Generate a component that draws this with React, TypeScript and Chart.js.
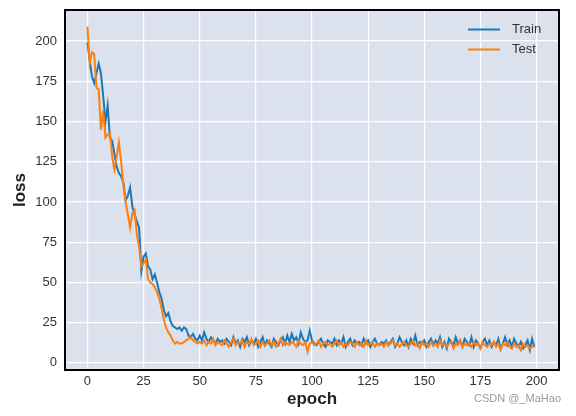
import { useEffect, useRef } from "react";
import { Chart, registerables } from "chart.js";

Chart.register(...registerables);

const trainLoss = [
  199, 188, 178, 174, 180, 186, 180, 166, 150, 160,
  140, 138, 130, 122, 118, 116, 112, 101, 104, 109,
  97, 92, 88, 84, 57, 66, 68, 60, 58, 52,
  55, 50, 44, 40, 33, 29, 31, 26, 23, 22,
  21, 22, 20, 22, 21, 17, 16, 18, 15, 14,
  17, 14, 19, 15, 13, 16, 14, 12, 15, 13,
  14, 12, 15, 13, 11, 16, 12, 14, 10, 15,
  13, 16, 11, 14, 12, 15, 10, 13, 16, 11,
  14, 12, 10, 15, 13, 11, 14, 16, 12, 17,
  13, 18, 14, 16, 12, 19, 15, 13, 14, 20,
  14, 12, 11, 13, 15, 12, 10, 14, 13, 12,
  15, 11, 14, 12, 16, 10, 13, 15, 11, 14,
  12, 13, 11, 15, 12, 14, 10, 13, 15, 12,
  11, 13, 12, 14, 11, 13, 15, 10, 12, 16,
  13, 11, 14, 10, 15, 12, 17, 11, 13, 12,
  14, 10, 13, 15, 11, 14, 12, 16, 10, 13,
  9, 15, 13, 11, 16, 12, 14, 10, 15, 13,
  11, 16, 10, 14, 12, 9, 13, 15, 11, 14,
  10, 13, 11, 15, 9, 12, 16, 11, 14, 10,
  15, 12, 10, 13, 9, 11, 14, 8, 15, 10,
];

const testLoss = [
  209, 186, 193, 192, 171, 170, 145, 157, 140, 142,
  143, 128, 120, 128, 137, 125, 110, 100, 92, 84,
  93, 95, 80, 72, 60, 62, 64, 52, 50, 49,
  47, 44, 40, 34, 27, 22, 19, 17, 14, 12,
  13, 12, 12, 13, 14, 15, 16, 14, 13, 12,
  13, 12, 14, 11, 13, 12, 15, 11, 13, 12,
  11, 14, 12, 10, 13, 15, 11, 13, 12, 14,
  10, 13, 12, 15, 11, 12, 14, 10, 13, 11,
  12, 14, 11, 13, 10, 12, 15, 11, 13, 12,
  11, 13, 12, 10, 14, 12, 11, 13, 7, 12,
  13, 11, 12, 14, 10, 12, 13, 11, 12, 10,
  12, 14, 11, 13, 10, 12, 11, 13, 12, 10,
  13, 11, 12, 10, 14, 11, 12, 13, 10, 12,
  11, 12, 10, 13, 11, 12, 14, 11, 12, 10,
  12, 13, 11, 10, 12, 14, 11, 12, 9, 13,
  11, 12, 10, 13, 11, 12, 10, 14, 11, 12,
  10, 12, 13, 9, 12, 11, 14, 10, 12, 11,
  12, 10, 13, 11, 12, 9, 13, 11, 10, 12,
  11, 13, 10, 12, 8, 12, 11, 13, 10, 9,
  12, 10, 11, 8, 12, 10, 11, 9, 10, 10,
];

const epochs = trainLoss.map((_, i) => i);
const xTickValues = [0, 25, 50, 75, 100, 125, 150, 175, 200];
const yTickValues = [0, 25, 50, 75, 100, 125, 150, 175, 200];
const seriesLabels = ["Train", "Test"];
const seriesColors = ["#1f77b4", "#ff7f0e"];
const xTitle = "epoch";
const yTitle = "loss";
const watermark = "CSDN @_MaHao";

const FONT = "'Liberation Sans', Arial, sans-serif";
const BG = "#dbe2ee";

const decorPlugin = {
  id: "decor",
  beforeDraw(chart: any) {
    const { ctx, chartArea: a, width, height } = chart;
    ctx.save();
    ctx.fillStyle = "#ffffff";
    ctx.fillRect(0, 0, width, height);
    ctx.fillStyle = BG;
    ctx.fillRect(a.left, a.top, a.right - a.left, a.bottom - a.top);
    ctx.restore();
  },
  afterDraw(chart: any) {
    const { ctx, chartArea: a } = chart;
    ctx.save();
    ctx.strokeStyle = "#000000";
    ctx.lineWidth = 2;
    ctx.strokeRect(a.left, a.top, a.right - a.left, a.bottom - a.top);

    // legend
    const ds = chart.data.datasets;
    ctx.font = `13px ${FONT}`;
    ctx.textBaseline = "middle";
    ctx.textAlign = "left";
    ds.forEach((d: any, i: number) => {
      const y = 29.5 + i * 20;
      ctx.strokeStyle = d.borderColor;
      ctx.lineWidth = 2;
      ctx.beginPath();
      ctx.moveTo(468, y);
      ctx.lineTo(500, y);
      ctx.stroke();
      ctx.fillStyle = "#333333";
      ctx.fillText(d.label, 512, y);
    });

    // watermark
    ctx.font = `11px ${FONT}`;
    ctx.fillStyle = "#9a9a9a";
    ctx.textAlign = "right";
    ctx.fillText(watermark, 561, 399);
    ctx.restore();
  },
};

export default function App() {
  const ref = useRef<HTMLCanvasElement>(null);

  useEffect(() => {
    document.body.style.margin = "0";
    const chart = new Chart(ref.current!, {
      type: "line",
      data: {
        datasets: [
          {
            label: seriesLabels[0],
            data: epochs.map((e, i) => ({ x: e, y: trainLoss[i] })),
            borderColor: seriesColors[0],
            backgroundColor: seriesColors[0],
            borderWidth: 2,
            pointRadius: 0,
            tension: 0,
            order: 1,
          },
          {
            label: seriesLabels[1],
            data: epochs.map((e, i) => ({ x: e, y: testLoss[i] })),
            borderColor: seriesColors[1],
            backgroundColor: seriesColors[1],
            borderWidth: 2,
            pointRadius: 0,
            tension: 0,
            order: 0,
          },
        ],
      },
      options: {
        responsive: false,
        animation: false,
        layout: { padding: { left: 0, right: 17, top: 10, bottom: 0 } },
        plugins: {
          legend: { display: false },
          tooltip: { enabled: false },
        },
        scales: {
          x: {
            type: "linear",
            min: -10,
            max: 210,
            afterBuildTicks: (s: any) => {
              s.ticks = xTickValues.map((v) => ({ value: v }));
            },
            afterFit: (s: any) => {
              s.height = 46;
              s.paddingLeft = 0;
              s.paddingRight = 0;
            },
            grid: { color: "#ffffff", lineWidth: 1.2, drawTicks: false },
            border: { display: false },
            ticks: {
              padding: 4,
              color: "#333333",
              font: { family: FONT, size: 13 },
              maxRotation: 0,
              autoSkip: false,
            },
            title: {
              display: true,
              text: xTitle,
              color: "#222222",
              font: { family: FONT, size: 17, weight: "bold" },
              padding: { top: 0, bottom: 6 },
            },
          },
          y: {
            type: "linear",
            min: -4.4,
            max: 219.3,
            afterBuildTicks: (s: any) => {
              s.ticks = yTickValues.map((v) => ({ value: v }));
            },
            afterFit: (s: any) => {
              s.width = 65;
              s.paddingTop = 0;
              s.paddingBottom = 0;
            },
            grid: { color: "#ffffff", lineWidth: 1.2, drawTicks: false },
            border: { display: false },
            ticks: {
              padding: 8,
              color: "#333333",
              font: { family: FONT, size: 13 },
              autoSkip: false,
            },
            title: {
              display: true,
              text: yTitle,
              color: "#222222",
              font: { family: FONT, size: 17, weight: "bold" },
              padding: { top: 10, bottom: 0 },
            },
          },
        },
      },
      plugins: [decorPlugin],
    });
    return () => chart.destroy();
  }, []);

  return (
    <canvas
      ref={ref}
      width={576}
      height={416}
      style={{ display: "block", width: 576, height: 416 }}
    />
  );
}
